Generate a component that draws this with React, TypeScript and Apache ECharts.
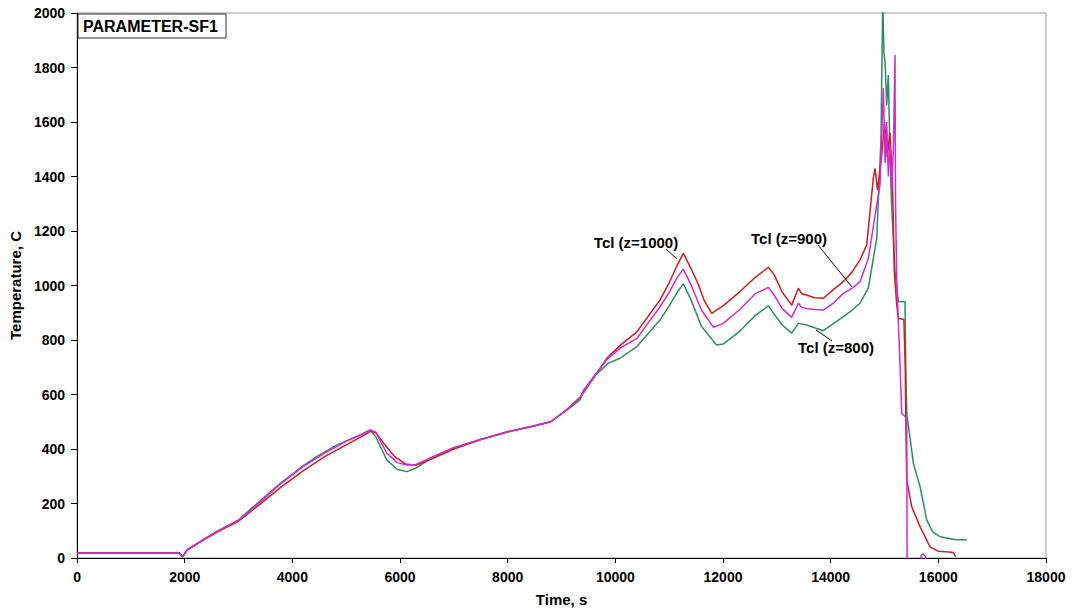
import React, { useEffect, useRef } from "react";
import * as echarts from "echarts";

// ---- data ----
const redTime = [0, 500, 1000, 1500, 1900, 1960, 2050, 2300, 2600, 3000, 3400, 3800, 4200, 4600, 5000, 5300, 5450, 5550, 5700, 5900, 6100, 6300, 6600, 7000, 7500, 8000, 8500, 8800, 9100, 9350, 9600, 9850, 10100, 10400, 10830, 11000, 11150, 11263, 11400, 11550, 11650, 11790, 12000, 12300, 12600, 12843, 12950, 13100, 13275, 13400, 13460, 13554, 13700, 13864, 14050, 14235, 14400, 14545, 14670, 14792, 14824, 14870, 14950, 15000, 15050, 15100, 15140, 15163, 15182, 15227, 15257, 15360, 15385, 15400, 15413, 15506, 15660, 15846, 16000, 16200, 16280, 16320];
const redTemp = [18, 18, 18, 18, 18, 5, 30, 60, 95, 135, 198, 262, 320, 372, 415, 447, 465, 460, 420, 372, 345, 340, 365, 400, 435, 463, 485, 500, 545, 590, 662, 735, 782, 830, 947, 1010, 1075, 1118, 1065, 1000, 945, 898, 925, 975, 1030, 1067, 1040, 975, 928, 990, 970, 965, 955, 953, 985, 1014, 1050, 1094, 1149, 1393, 1430, 1350, 1480, 1600, 1470, 1560, 1420, 1247, 1051, 928, 880, 875, 700, 450, 286, 188, 115, 41, 25, 22, 20, 5];

const magentaTime = [0, 500, 1000, 1500, 1900, 1960, 2050, 2300, 2600, 3000, 3400, 3800, 4200, 4600, 5000, 5300, 5450, 5550, 5753, 5950, 6124, 6300, 6615, 7000, 7500, 8000, 8500, 8800, 9100, 9350, 9600, 9850, 10100, 10400, 10830, 11000, 11150, 11263, 11400, 11600, 11820, 12000, 12300, 12600, 12843, 12950, 13100, 13275, 13400, 13460, 13554, 13700, 13864, 14050, 14235, 14400, 14545, 14700, 14855, 14916, 14978, 15010, 15041, 15071, 15102, 15133, 15165, 15195, 15205, 15227, 15290, 15320, 15380, 15413, 15420, 15650, 15680, 15720, 15760, 15780];
const magentaTemp = [18, 18, 18, 18, 18, 3, 32, 62, 98, 138, 205, 275, 335, 385, 428, 455, 470, 462, 385, 350, 341, 343, 372, 405, 435, 463, 485, 500, 545, 592, 665, 730, 772, 806, 922, 975, 1030, 1060, 1005, 910, 847, 860, 910, 970, 993, 965, 915, 883, 935, 920, 916, 912, 910, 935, 971, 990, 1014, 1100, 1295, 1369, 1725, 1450, 1600, 1400, 1520, 1350, 1500, 1846, 1300, 1020, 700, 531, 520, 505, -60, -60, 10, 15, 5, -60];

const greenTime = [0, 500, 1000, 1500, 1900, 1960, 2050, 2300, 2600, 3000, 3400, 3800, 4200, 4452, 4760, 5000, 5300, 5443, 5550, 5753, 5950, 6124, 6300, 6615, 7000, 7500, 8000, 8500, 8800, 9100, 9344, 9405, 9600, 9870, 10087, 10400, 10830, 11000, 11150, 11263, 11400, 11600, 11880, 12000, 12300, 12600, 12843, 12950, 13100, 13275, 13400, 13554, 13700, 13864, 14050, 14235, 14400, 14545, 14699, 14855, 14935, 14967, 14990, 15010, 15041, 15071, 15102, 15133, 15195, 15257, 15381, 15395, 15413, 15537, 15660, 15785, 15900, 16032, 16300, 16530];
const greenTemp = [18, 18, 18, 18, 18, 5, 30, 62, 98, 140, 210, 278, 338, 372, 408, 430, 455, 470, 445, 360, 325, 317, 330, 372, 405, 435, 463, 485, 500, 543, 580, 615, 665, 715, 733, 776, 873, 925, 975, 1006, 950, 850, 782, 785, 830, 890, 925, 895, 855, 825, 861, 855, 845, 834, 860, 886, 910, 935, 990, 1173, 1541, 2050, 1850, 1821, 1662, 1772, 1479, 1295, 1051, 941, 940, 700, 531, 347, 262, 139, 95, 78, 68, 66];

const xTicks = { min: 0, max: 18000, interval: 2000 };
const yTicks = { min: 0, max: 2000, interval: 200 };

const pair = (t: number[], v: number[]) => t.map((x, i) => [x, v[i]]);

const FONT = "'Liberation Sans', Arial, sans-serif";

export default function App() {
  const ref = useRef<HTMLDivElement>(null);
  useEffect(() => {
    document.body.style.margin = "0";
    if (!ref.current) return;
    const chart = echarts.init(ref.current, undefined, { renderer: "svg" });
    const lineSeries = (name: string, data: number[][], color: string) => ({
      name,
      type: "line",
      data,
      showSymbol: false,
      symbol: "none",
      clip: true,
      lineStyle: { color, width: 1.5 },
      itemStyle: { color },
    });
    const labelStyle = {
      fontWeight: "bold",
      fontSize: 14,
      color: "#000",
      margin: 12,
      fontFamily: FONT,
      formatter: (v: number) => String(v),
    };
    chart.setOption({
      animation: false,
      backgroundColor: "#ffffff",
      textStyle: { fontFamily: FONT },
      grid: {
        left: 77,
        right: 26,
        top: 13,
        bottom: 58,
        show: true,
        borderColor: "#9a9a9a",
        borderWidth: 1,
        backgroundColor: "#ffffff",
      },
      xAxis: {
        type: "value",
        ...xTicks,
        name: "Time, s",
        nameLocation: "middle",
        nameGap: 34,
        nameTextStyle: { fontWeight: "bold", fontSize: 15, color: "#000", fontFamily: FONT },
        axisLine: { show: true, lineStyle: { color: "#000", width: 1 } },
        axisTick: { show: true, length: 5, lineStyle: { color: "#000" } },
        axisLabel: { ...labelStyle, margin: 12 },
        splitLine: { show: false },
      },
      yAxis: {
        type: "value",
        ...yTicks,
        name: "Temperature, C",
        nameLocation: "middle",
        nameRotate: 90,
        nameGap: 52,
        nameTextStyle: { fontWeight: "bold", fontSize: 15, color: "#000", fontFamily: FONT },
        axisLine: { show: true, lineStyle: { color: "#000", width: 1 } },
        axisTick: { show: true, length: 6, lineStyle: { color: "#000" } },
        axisLabel: { ...labelStyle, margin: 12 },
        splitLine: { show: false },
      },
      series: [
        lineSeries("Tcl (z=800)", pair(greenTime, greenTemp), "#2e8b66"),
        lineSeries("Tcl (z=1000)", pair(redTime, redTemp), "#d01c1c"),
        lineSeries("Tcl (z=900)", pair(magentaTime, magentaTemp), "#d42ad4"),
      ],
      graphic: [
        {
          type: "rect",
          shape: { x: 78, y: 14, width: 148, height: 24 },
          style: { fill: "#fff", stroke: "#333", lineWidth: 1 },
          z: 100,
        },
        {
          type: "text",
          x: 83,
          y: 26,
          style: { text: "PARAMETER-SF1", fontSize: 16, fontWeight: "bold", fill: "#000", fontFamily: FONT, verticalAlign: "middle", align: "left" },
          z: 101,
        },
        {
          type: "text",
          x: 636,
          y: 242,
          style: { text: "Tcl (z=1000)", fontSize: 15, fontWeight: "bold", fill: "#000", fontFamily: FONT, align: "center", verticalAlign: "middle" },
          z: 101,
        },
        { type: "line", shape: { x1: 666, y1: 249, x2: 677, y2: 259 }, style: { stroke: "#000", lineWidth: 1 }, z: 101 },
        {
          type: "text",
          x: 789,
          y: 238,
          style: { text: "Tcl (z=900)", fontSize: 15, fontWeight: "bold", fill: "#000", fontFamily: FONT, align: "center", verticalAlign: "middle" },
          z: 101,
        },
        { type: "line", shape: { x1: 818, y1: 245, x2: 852, y2: 287 }, style: { stroke: "#000", lineWidth: 1 }, z: 101 },
        {
          type: "text",
          x: 836,
          y: 347,
          style: { text: "Tcl (z=800)", fontSize: 15, fontWeight: "bold", fill: "#000", fontFamily: FONT, align: "center", verticalAlign: "middle" },
          z: 101,
        },
        { type: "line", shape: { x1: 816, y1: 330, x2: 832, y2: 341 }, style: { stroke: "#000", lineWidth: 1 }, z: 101 },
      ],
    });
    return () => chart.dispose();
  }, []);
  return <div ref={ref} style={{ width: 1072, height: 616 }} />;
}
